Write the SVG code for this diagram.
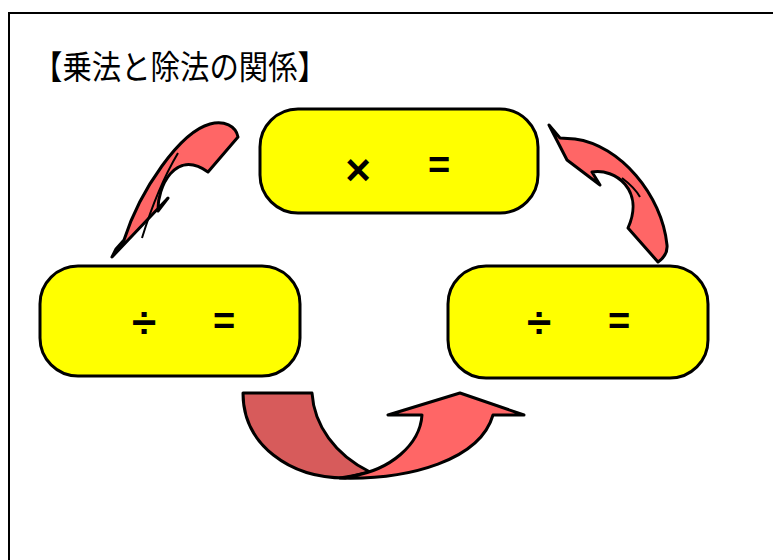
<svg xmlns="http://www.w3.org/2000/svg" width="773" height="560" viewBox="0 0 773 560">
<style>
.box{fill:#FFFF00;stroke:#000;stroke-width:3}
.arr{fill:#FF6666;stroke:#000;stroke-width:3;stroke-linejoin:round}
.arrd{fill:#D75B5B;stroke:#000;stroke-width:3;stroke-linejoin:round}
.fold{fill:none;stroke:#000;stroke-width:2}
.op{font-family:"Liberation Sans","DejaVu Sans",sans-serif;font-weight:bold;font-size:38px;fill:#000;text-anchor:middle}
.big{font-size:44px}
.title{font-family:"Noto Sans CJK JP","Noto Sans CJK SC",sans-serif;font-size:33px;fill:#000}
</style>
<rect x="9" y="13" width="780" height="570" fill="#fff" stroke="#000" stroke-width="2"/>
<text class="title" x="33" y="79" textLength="294" lengthAdjust="spacingAndGlyphs">【乗法と除法の関係】</text>
<g id="connectors">
<path class="arr" d="M238,137 C236,126 224,120 210,124 C180,132 140,190 124,240 L116,249 L112,257 L168,198 L158,211 C157,188 175,148 208,172 Z"/>
<path class="fold" d="M178,153 C162,180 150,212 142,238"/>
<path class="arr" d="M549,125 L567,160 L600,185 L592,172 C615,168 645,190 628,228 L658,262 Q668,255 667,245 C662,195 620,145 575,139 L560,138 Z"/>
<path class="fold" d="M622,178 C630,184 636,190 640,197"/>
<path class="arrd" d="M243,393 L312,393 C314,425 335,455 370,472 L345,478 C290,478 243,445 243,393 Z"/>
<path class="arr" d="M340,478 C410,480 480,460 493,415 L524,415 L460,393 L388,415 L422,415 C420,445 390,470 352,476 Z"/>
</g>
<g id="node-mul">
<rect class="box" x="260" y="109" width="278" height="104" rx="38"/>
<text class="op big" x="358" y="185">×</text>
<text class="op" x="439" y="178">=</text>
</g>
<g id="node-div-left">
<rect class="box" x="40" y="266" width="260" height="110" rx="38"/>
<text class="op big" x="144" y="338">÷</text>
<text class="op" x="224" y="334">=</text>
</g>
<g id="node-div-right">
<rect class="box" x="448" y="266" width="260" height="112" rx="38"/>
<text class="op big" x="539" y="338">÷</text>
<text class="op" x="619" y="334">=</text>
</g>
</svg>
